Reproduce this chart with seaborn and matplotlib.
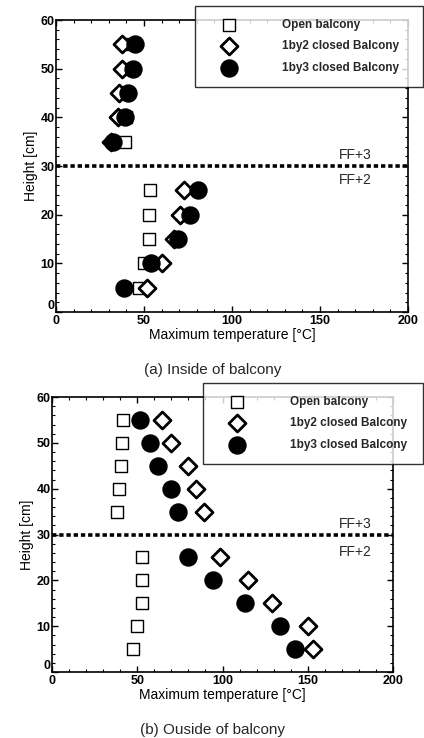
import matplotlib
matplotlib.use("Agg")
import matplotlib.pyplot as plt
import seaborn as sns
import pandas as pd
from matplotlib.ticker import MultipleLocator

heights = [5, 10, 15, 20, 25, 35, 40, 45, 50, 55]
series = ["Open balcony", "1by2 closed Balcony", "1by3 closed Balcony"]

# (a) inside of balcony
in_open = [47, 50, 53, 53, 53.5, 39, 40, 40, 40.5, 41]
in_1by2 = [51.5, 60.5, 67, 70.5, 73, 31, 35, 36, 37.5, 37.5]
in_1by3 = [38.5, 54, 69.5, 76, 80.5, 32.5, 39, 41, 44, 45]

# (b) outside of balcony
out_open = [47.3, 49.6, 53, 53, 53, 38, 39.5, 40.4, 41, 41.7]
out_1by2 = [153, 150, 129, 115, 98.5, 89, 84.5, 80, 70, 64.3]
out_1by3 = [142.5, 134, 113, 94.6, 80, 74, 69.6, 62.4, 57.5, 51.6]

x_ticks = [0, 50, 100, 150, 200]
y_ticks = [0, 10, 20, 30, 40, 50, 60]
captions = ["(a) Inside of balcony", "(b) Ouside of balcony"]
floor_labels = ["FF+3", "FF+2"]
xlabel = "Maximum temperature [°C]"
ylabel = "Height [cm]"

sns.set_theme(style="white")
plt.rcParams["font.family"] = ["Liberation Sans", "DejaVu Sans"]

W, H = 424, 738
fig = plt.figure(figsize=(W / 100, H / 100), dpi=100)

styles = {
    "Open balcony": dict(marker="s", s=85, facecolor="white", edgecolor="black", linewidth=1.0),
    "1by2 closed Balcony": dict(marker="D", s=75, facecolor="white", edgecolor="black", linewidth=2.0),
    "1by3 closed Balcony": dict(marker="o", s=150, facecolor="black", edgecolor="black", linewidth=1.0),
}

panels = [
    dict(rect=(56, 20, 408, 312), data=[in_open, in_1by2, in_1by3], leg=(195, 6, 423, 90),
         ff=(155, 180)),
    dict(rect=(52, 397, 393, 672), data=[out_open, out_1by2, out_1by3], leg=(203, 383, 423, 463),
         ff=(524, 552)),
]

for i, p in enumerate(panels):
    l, t, r, b = p["rect"]
    ax = fig.add_axes([l / W, 1 - b / H, (r - l) / W, (b - t) / H])
    frames = []
    for name, vals in zip(series, p["data"]):
        frames.append(pd.DataFrame({"temp": vals, "height": heights, "series": name}))
    df = pd.concat(frames, ignore_index=True)
    for name in series:
        st = styles[name]
        sns.scatterplot(data=df[df["series"] == name], x="temp", y="height", ax=ax,
                        marker=st["marker"], s=st["s"], color=st["facecolor"],
                        edgecolor=st["edgecolor"], linewidth=st["linewidth"],
                        label=name, zorder=3, legend=False)
    ax.axhline(30, color="black", linestyle=(0, (1.2, 0.8)), linewidth=2.6, zorder=2)
    ax.set_xlim(0, 200)
    ax.set_ylim(0, 60)
    ax.set_xticks(x_ticks)
    ax.set_yticks(y_ticks)
    ax.xaxis.set_minor_locator(MultipleLocator(10))
    ax.yaxis.set_minor_locator(MultipleLocator(2))
    ax.tick_params(which="both", direction="in", top=True, right=True,
                   bottom=True, left=True, colors="black")
    ax.tick_params(which="major", length=4, width=1, labelsize=9)
    ax.tick_params(axis="x", which="major", pad=2)
    ax.tick_params(axis="y", which="major", pad=1)
    ax.tick_params(which="minor", length=2, width=0.8)
    for lab in ax.get_xticklabels() + ax.get_yticklabels():
        lab.set_fontweight("bold")
    ylabs = ax.get_yticklabels()
    ylabs[0].set_verticalalignment("bottom")
    for sp in ax.spines.values():
        sp.set_color("black")
        sp.set_linewidth(1.2)
    ax.set_xlabel(xlabel, fontsize=10, labelpad=1, color="black")
    ax.set_ylabel(ylabel, fontsize=10, labelpad=2, color="black")
    ax.grid(False)

    # floor labels
    cx = 355 / W
    fig.text(cx, 1 - p["ff"][0] / H, floor_labels[0], ha="center", va="center", fontsize=10)
    fig.text(cx, 1 - p["ff"][1] / H, floor_labels[1], ha="center", va="center", fontsize=10)

    # legend
    ll, lt, lr, lb = p["leg"]
    handles, labels = ax.get_legend_handles_labels()
    leg = fig.legend(handles, labels, loc="upper left",
                     bbox_to_anchor=(ll / W, 1 - lb / H, (lr - ll) / W, (lb - lt) / H),
                     mode="expand", frameon=True, fancybox=False,
                     prop={"size": 8.5, "weight": "bold"},
                     borderpad=1.1, labelspacing=0.8, handletextpad=2.7,
                     borderaxespad=0, handlelength=3.6, markerscale=1.0)
    leg.get_frame().set_edgecolor("black")
    leg.get_frame().set_linewidth(1.0)
    leg.set_zorder(10)

    # caption
    cap_y = [370, 730][i]
    fig.text(213 / W, 1 - cap_y / H, captions[i], ha="center", va="center", fontsize=11)

fig.savefig("out.png", dpi=100, facecolor="white")
